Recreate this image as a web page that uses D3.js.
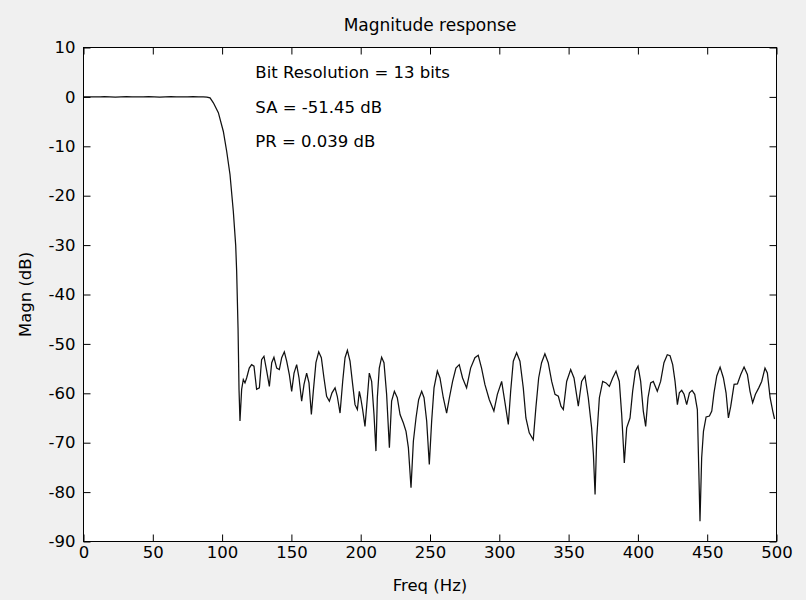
<!DOCTYPE html>
<html>
<head>
<meta charset="utf-8">
<script src="https://cdn.jsdelivr.net/npm/d3@7"></script>
<style>
  body { margin: 0; background: #f0f0f0; }
  svg  { display: block; }
</style>
</head>
<body>
<script>
// ---- data -----------------------------------------------------------
const freqHz = [
  0, 4, 8, 12, 15, 19, 23, 27, 31, 35, 39, 43, 47, 51, 55, 59, 63, 67, 71, 75, 79, 83, 86.4,
  89, 91.3, 93.7, 97.3, 100.9, 103.3, 105.7, 108.1, 109.8, 110.5, 111.5, 112.2, 112.9,
  114.1, 115.3, 116.5, 117.7, 119.6, 121.3, 123, 124.9, 126.9, 128.5, 130.2, 132.2, 134.1,
  135.8, 137.4, 139.4, 141.3, 143, 144.9, 146.6, 148.5, 150.2, 151.9, 153.8, 155.5, 157.4,
  159.1, 161, 162.7, 164.4, 165.8, 167.7, 169.7, 171.6, 173.5, 175.4, 177.4, 179.3, 181.5,
  183.1, 185.1, 187, 188.7, 190.4, 192.3, 194.2, 195.9, 197.6, 199, 200, 201.4, 203.1,
  204.8, 206.2, 207.9, 209.6, 211, 212, 213.4, 215.1, 216.8, 218.7, 220.7, 222.3, 224.3,
  226.4, 228.4, 230.8, 232.7, 234.4, 236.3, 238, 239.9, 241.8, 244, 245.7, 247.6, 249.5,
  251.2, 252.9, 255.3, 257.2, 259.6, 262, 264, 266.3, 268.7, 271.1, 273.5, 276.4, 279.3,
  282.4, 284.8, 287.2, 289.6, 292.8, 296.1, 298.6, 301.7, 304.1, 306.5, 308.2, 310.1,
  312.5, 314.9, 317.3, 319.2, 321.6, 324.5, 326.4, 328.4, 330.5, 332.9, 335.3, 337.8,
  340.2, 342.6, 344.5, 346.2, 348.6, 351.5, 353.9, 357, 359.4, 361.8, 364.2, 366.6, 367.9,
  369.1, 370.3, 372.2, 374.6, 377, 379.4, 381.8, 384.2, 386.6, 388.3, 390.2, 391.9, 394.3,
  396.2, 398.2, 400.1, 402, 403.9, 405.6, 407.3, 409.2, 411.1, 414, 416.4, 418.8, 421.2,
  423.2, 425.1, 426.8, 428.5, 429.9, 431.6, 433.3, 435.2, 437.2, 439.1, 441, 442.9, 443.9,
  444.8, 446, 447.3, 449.2, 451.6, 453.3, 454.9, 456.9, 459.3, 461.7, 463.6, 465.3, 467,
  469.4, 471.8, 474.2, 476.6, 479, 480.9, 482.8, 484.8, 487.2, 489.3, 491.7, 493.4, 495.4,
  497.3, 498.6
];
const magnDb = [
  0, 0.01, -0.02, 0.03, 0.05, 0, -0.03, 0.02, 0.04, 0, -0.02, 0.03, 0.05, 0.01, -0.03, 0.02,
  0.04, 0, -0.02, 0.03, 0.05, 0.02, 0,
  -0.05, -0.2, -1.2, -3.2, -7, -11, -15.7, -23.2, -30, -35.3, -46.8, -59.2, -65.6,
  -59.2, -57.2, -57.9, -56.9, -54.9, -54.2, -54.5, -59.2, -58.9, -53.2, -52.5, -55.5, -58.6,
  -53.8, -52.7, -54.9, -55.2, -52.8, -51.6, -53.5, -56.2, -59.6, -55.9, -54.2, -56.9, -61.6,
  -58.2, -55.9, -57.9, -64.3, -59.6, -53.8, -51.6, -52.8, -56.9, -60.6, -61.6, -59.9, -58.9,
  -60.6, -64, -57.6, -52.8, -51.3, -53.5, -58.2, -62.3, -63.3, -59.6, -60.9, -63.3, -66.7,
  -60.9, -55.9, -57.6, -64.3, -71.7, -60.9, -54.9, -52.7, -53.8, -60.2, -71, -61.6, -59.6,
  -60.9, -64.3, -66, -67.7, -71, -79.1, -69.7, -65, -61.3, -59.6, -60.9, -65.6, -74.4,
  -65.6, -58.9, -55.5, -56.9, -60.9, -64, -60.9, -57.6, -54.9, -54.2, -56.9, -58.9, -54.9,
  -52.8, -52.3, -54.9, -58.2, -61.3, -63.6, -60.2, -57.6, -61.9, -66.3, -59.6, -53.5,
  -51.8, -53.5, -58.9, -65, -68, -69.4, -62.9, -56.9, -53.8, -52, -53.8, -57.6,
  -60.2, -60.6, -62.6, -63.3, -57.6, -55.2, -56.9, -62.6, -57.6, -56.5, -60.9, -67, -72.4,
  -80.5, -69, -60.9, -57.6, -57.9, -58.6, -56.9, -55.5, -57.6, -64.3, -74.1, -67, -65,
  -59.6, -55.5, -54.5, -57.6, -63.6, -66.7, -60.9, -57.9, -57.6, -59.6, -57.6, -53.8, -52.2,
  -52.4, -54.2, -57.6, -62.3, -59.9, -59.4, -60.2, -62.3, -59.9, -59.4, -60.2, -63.3, -75.1,
  -85.9, -73.1, -67.7, -64.8, -64.6, -63.6, -59.9, -56.5, -54.7, -56.9, -59.9, -65, -62.6,
  -58.2, -58.1, -56.2, -54.7, -56.2, -59.6, -61.9, -60.2, -58.9, -57.6, -54.9, -55.9, -60.9,
  -63.6, -65.2
];
const xTicks = [0, 50, 100, 150, 200, 250, 300, 350, 400, 450, 500];
const yTicks = [-90, -80, -70, -60, -50, -40, -30, -20, -10, 0, 10];
const notes  = ["Bit Resolution = 13 bits", "SA = -51.45 dB", "PR = 0.039 dB"];

// ---- layout -----------------------------------------------------------
const W = 806, H = 600;
const box = { left: 83.5, right: 776.5, top: 47.5, bottom: 541.5 };
const FONT = "'DejaVu Sans', sans-serif";
const FS = 16.5;
const TICK = 7;

const x = d3.scaleLinear([0, 500], [box.left, box.right]);
const y = d3.scaleLinear([-90, 10], [box.bottom, box.top]);
const plain = d => String(d);   // hyphen minus, like the original

const svg = d3.select("body").append("svg")
  .attr("width", W).attr("height", H)
  .attr("font-family", FONT).attr("font-size", FS);

svg.append("rect").attr("width", W).attr("height", H).attr("fill", "#f0f0f0");

// plot area
svg.append("rect")
  .attr("x", box.left).attr("y", box.top)
  .attr("width", box.right - box.left).attr("height", box.bottom - box.top)
  .attr("fill", "#fff");

// response curve
const pts = freqHz.map((f, i) => [f, magnDb[i]]);
svg.append("path")
  .datum(pts)
  .attr("fill", "none")
  .attr("stroke", "#111")
  .attr("stroke-width", 1.25)
  .attr("d", d3.line().x(d => x(d[0])).y(d => y(d[1])));

// axes: ticks pointing inward on all four sides (matlab style)
const axisStyle = g => {
  g.select(".domain").remove();
  g.selectAll("line").attr("stroke", "#000");
  g.selectAll("text").attr("fill", "#000").attr("font-family", FONT).attr("font-size", FS);
};

svg.append("g").attr("transform", `translate(0,${box.bottom})`)
  .call(d3.axisBottom(x).tickValues(xTicks).tickFormat(plain)
    .tickSizeInner(-TICK).tickSizeOuter(0).tickPadding(5))
  .call(axisStyle);
svg.append("g").attr("transform", `translate(0,${box.top})`)
  .call(d3.axisTop(x).tickValues(xTicks).tickSizeInner(-TICK).tickSizeOuter(0).tickFormat(""))
  .call(axisStyle);
svg.append("g").attr("transform", `translate(${box.left},0)`)
  .call(d3.axisLeft(y).tickValues(yTicks).tickFormat(plain)
    .tickSizeInner(-TICK).tickSizeOuter(0).tickPadding(8))
  .call(axisStyle);
svg.append("g").attr("transform", `translate(${box.right},0)`)
  .call(d3.axisRight(y).tickValues(yTicks).tickSizeInner(-TICK).tickSizeOuter(0).tickFormat(""))
  .call(axisStyle);

// frame
svg.append("rect")
  .attr("x", box.left).attr("y", box.top)
  .attr("width", box.right - box.left).attr("height", box.bottom - box.top)
  .attr("fill", "none").attr("stroke", "#000");

// annotation text (data coords, as matlab text())
const noteY = [5, -2, -9];
svg.append("g").selectAll("text").data(notes).join("text")
  .attr("x", x(124)).attr("y", (d, i) => y(noteY[i]))
  .attr("dy", "0.35em")
  .text(d => d);

// labels
svg.append("text")
  .attr("x", (box.left + box.right) / 2).attr("y", 25).attr("dy", "0.35em")
  .attr("font-size", 17)
  .attr("text-anchor", "middle").text("Magnitude response");
svg.append("text")
  .attr("x", (box.left + box.right) / 2).attr("y", 585).attr("dy", "0.35em")
  .attr("text-anchor", "middle").text("Freq (Hz)");
svg.append("text")
  .attr("transform", `translate(25,${(box.top + box.bottom) / 2}) rotate(-90)`)
  .attr("dy", "0.35em")
  .attr("text-anchor", "middle").text("Magn (dB)");
</script>
</body>
</html>
